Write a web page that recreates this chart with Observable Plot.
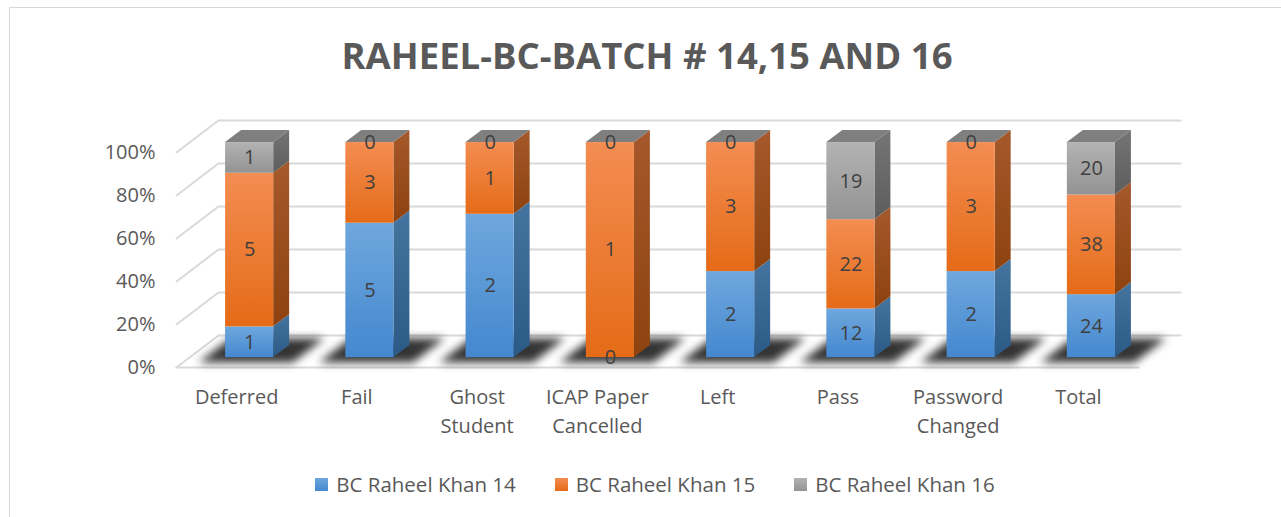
<!DOCTYPE html>
<html>
<head>
<meta charset="utf-8">
<script src="https://cdn.jsdelivr.net/npm/d3@7"></script>
<script src="https://cdn.jsdelivr.net/npm/@observablehq/plot@0.6"></script>
<style>
  html, body { margin: 0; padding: 0; background: #fff; width: 1281px; height: 517px; overflow: hidden; }
  body { position: relative; font-family: "Open Sans", "DejaVu Sans", sans-serif; }
  #frame { position: absolute; left: 9px; top: 7px; width: 1320px; height: 600px; border: 1.5px solid #d9d9d9; box-sizing: border-box; }
  #title { position: absolute; left: 13px; width: 1268px; top: 37px; text-align: center; font-size: 36.5px; line-height: 36px; font-weight: 700; color: #595959; }
  #chart { position: absolute; left: 0; top: 110px; }
  #legend { position: absolute; left: 21px; width: 1268px; top: 472px; display: flex; justify-content: center; gap: 39px; font-size: 20.5px; color: #595959; line-height: 24px; }
  .item { display: flex; align-items: center; }
  .sw { width: 13px; height: 13px; margin-right: 8px; }
</style>
</head>
<body>
<div id="frame"></div>
<div id="title">RAHEEL-BC-BATCH # 14,15 AND 16</div>
<div id="chart"></div>
<div id="legend"></div>
<script>
// ---- data ----
const categories = ["Deferred", "Fail", "Ghost Student", "ICAP Paper Cancelled", "Left", "Pass", "Password Changed", "Total"];
const categoryLabels = ["Deferred", "Fail", "Ghost\nStudent", "ICAP Paper\nCancelled", "Left", "Pass", "Password\nChanged", "Total"];
const seriesNames = ["BC Raheel Khan 14", "BC Raheel Khan 15", "BC Raheel Khan 16"];
const batch14 = [1, 5, 2, 0, 2, 12, 2, 24];
const batch15 = [5, 3, 1, 1, 3, 22, 3, 38];
const batch16 = [1, 0, 0, 0, 0, 19, 0, 20];
const yTicks = [0, 20, 40, 60, 80, 100];

// ---- styles ----
const frontTop = ["#6fa7dd", "#f38d52", "#b3b3b3"];
const frontBot = ["#4488cf", "#e56b17", "#939393"];
const sideTop = ["#45749f", "#a5592c", "#757575"];
const sideBot = ["#2c5a86", "#8d420f", "#5d5d5d"];
const topColor = "#7f7f7f";
const shadowColor = "#010101";

// 3D geometry (in scale units)
const N = categories.length;
const DX = 0.349, DY = 14.88;       // depth offset of the back wall
const BX0 = 0.3, BX1 = 0.7;          // bar extent within a category slot
const Z0 = 0.31, Z1 = 0.69;          // bar depth extent

const series = [batch14, batch15, batch16];
const segments = [];
categories.forEach((c, i) => {
  const total = series.reduce((s, arr) => s + arr[i], 0);
  let acc = 0;
  series.forEach((arr, s) => {
    const p0 = acc / total * 100;
    acc += arr[i];
    const p1 = acc / total * 100;
    segments.push({i, s, value: arr[i], p0, p1});
  });
});

// side face points (areaY)
const sidePts = [];
segments.forEach((d, k) => {
  for (const z of [Z0, Z1]) {
    sidePts.push({k, s: d.s, x: d.i + BX1 + z * DX, y1: d.p0 + z * DY, y2: d.p1 + z * DY});
  }
});
// top face points (areaX)
const topPts = [];
categories.forEach((c, i) => {
  for (const z of [Z0, Z1]) {
    topPts.push({i, y: 100 + z * DY, x1: i + BX0 + z * DX, x2: i + BX1 + z * DX});
  }
});
// floor shadow
const shadowPts = [];
categories.forEach((c, i) => {
  for (const z of [0.14, 0.9]) {
    shadowPts.push({i, y: z * DY, x1: i + 0.14 + z * DX, x2: i + 0.92 + z * DX});
  }
});
// gridlines: front-left corner -> back-left -> back-right
const gridPts = [];
yTicks.forEach(t => {
  gridPts.push({t, x: 0, y: t});
  gridPts.push({t, x: DX, y: t + DY});
  gridPts.push({t, x: N + DX, y: t + DY});
});
const floorFront = [{x: 0, y: 0}, {x: N, y: 0}];

const marks = [
  Plot.line(gridPts, {x: "x", y: "y", z: "t", stroke: "#d9d9d9", strokeWidth: 2}),
  Plot.line(floorFront, {x: "x", y: "y", stroke: "#d9d9d9", strokeWidth: 2}),
  Plot.areaX(shadowPts, {y: "y", x1: "x1", x2: "x2", z: "i", fill: shadowColor, fillOpacity: 0.8, curve: "linear"})
];
series.forEach((arr, s) => {
  const segs = segments.filter(d => d.s === s);
  marks.push(Plot.areaY(sidePts.filter(d => d.s === s), {x: "x", y1: "y1", y2: "y2", z: "k", fill: `url(#side${s})`}));
  marks.push(Plot.rect(segs, {
    x1: d => d.i + BX0 + Z0 * DX, x2: d => d.i + BX1 + Z0 * DX,
    y1: d => d.p0 + Z0 * DY, y2: d => d.p1 + Z0 * DY,
    fill: `url(#front${s})`
  }));
});
marks.push(Plot.areaX(topPts, {y: "y", x1: "x1", x2: "x2", z: "i", fill: topColor}));
marks.push(Plot.text(segments, {
  x: d => d.i + (BX0 + BX1) / 2 + Z0 * DX,
  y: d => (d.p0 + d.p1) / 2 + Z0 * DY,
  text: d => String(d.value), fill: "#404040", fontSize: 20
}));
// y tick labels
marks.push(Plot.text(yTicks, {x: () => 0, y: d => d, text: d => d + "%", textAnchor: "end", dx: -21, fill: "#595959", fontSize: 20}));
// category labels
marks.push(Plot.text(categoryLabels, {x: (d, i) => i + 0.5, y: () => 0, text: d => d, lineAnchor: "top", dy: 16, lineHeight: 1.45, fill: "#595959", fontSize: 20}));

const chart = Plot.plot({
  width: 1281,
  height: 330,
  x: {type: "linear", domain: [0, N + DX], range: [176, 1180], axis: null},
  y: {type: "linear", domain: [0, 100 + DY], range: [257, 10], axis: null},
  style: {fontFamily: "'Open Sans', 'DejaVu Sans', sans-serif", background: "transparent", overflow: "visible"},
  marks
});

// gradient defs
const svgNode = chart.tagName.toLowerCase() === "svg" ? chart : chart.querySelector("svg");
const svg = d3.select(svgNode);
const defs = svg.insert("defs", ":first-child");
function grad(id, c0, c1) {
  const g = defs.append("linearGradient").attr("id", id).attr("x1", 0).attr("y1", 0).attr("x2", 0).attr("y2", 1);
  g.append("stop").attr("offset", "0%").attr("stop-color", c0);
  g.append("stop").attr("offset", "100%").attr("stop-color", c1);
}
for (let s = 0; s < 3; s++) {
  grad(`front${s}`, frontTop[s], frontBot[s]);
  grad(`side${s}`, sideTop[s], sideBot[s]);
}
// soften the floor shadows
svg.selectAll("*").filter(function () { return this.getAttribute("fill") === shadowColor; })
  .style("filter", "blur(4px)");

document.getElementById("chart").appendChild(chart);

// legend
const legend = d3.select("#legend");
seriesNames.forEach((name, s) => {
  const it = legend.append("div").attr("class", "item");
  it.append("div").attr("class", "sw").style("background", `linear-gradient(${frontTop[s]}, ${frontBot[s]})`);
  it.append("span").text(name);
});
</script>
</body>
</html>
